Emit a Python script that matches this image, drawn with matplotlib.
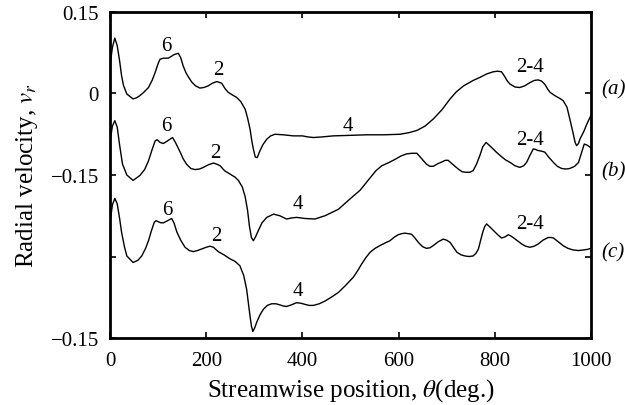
import matplotlib
matplotlib.use("Agg")
import matplotlib.pyplot as plt
import matplotlib.transforms as mtransforms

plt.rcParams['font.family'] = ['Liberation Serif', 'DejaVu Serif']
plt.rcParams['mathtext.fontset'] = 'stix'

# curve (a): streamwise position (deg) and radial velocity
theta_a = [0, 5, 10, 15, 20, 24, 28, 35, 48, 55, 62, 70, 80, 88, 94, 100, 104, 111, 121, 127,
           132, 138, 142, 147, 152, 158, 164, 170, 178, 187, 195, 204, 213, 222, 232, 240, 246,
           255, 263, 272, 281, 286, 291, 295, 298, 302, 306, 312, 318, 326, 334, 343, 360, 381,
           400, 412, 423, 440, 464, 500, 534, 570, 603, 622, 638, 655, 672, 690, 707, 720, 735,
           755, 770, 783, 797, 806, 814, 820, 826, 832, 842, 852, 862, 873, 882, 890, 897, 904,
           910, 915, 925, 935, 942, 950, 956, 962, 967, 970, 974, 977, 985, 992, 1000]
vr_a = [0.051, 0.085, 0.102, 0.088, 0.060, 0.033, 0.015, -0.001, -0.010, -0.008, -0.004, 0.002,
        0.011, 0.025, 0.039, 0.055, 0.063, 0.065, 0.065, 0.068, 0.071, 0.073, 0.074, 0.066,
        0.051, 0.038, 0.029, 0.021, 0.014, 0.010, 0.011, 0.014, 0.019, 0.022, 0.019, 0.008,
        0.002, -0.003, -0.007, -0.015, -0.029, -0.045, -0.065, -0.088, -0.102, -0.117, -0.118,
        -0.105, -0.094, -0.084, -0.078, -0.075, -0.076, -0.078, -0.078, -0.080, -0.081, -0.080,
        -0.078, -0.077, -0.076, -0.076, -0.075, -0.072, -0.068, -0.060, -0.047, -0.030, -0.010,
        0.003, 0.014, 0.024, 0.030, 0.036, 0.040, 0.041, 0.040, 0.032, 0.023, 0.017, 0.012,
        0.011, 0.014, 0.020, 0.024, 0.025, 0.023, 0.017, 0.008, 0.002, -0.004, -0.009, -0.013,
        -0.025, -0.047, -0.070, -0.090, -0.096, -0.092, -0.084, -0.070, -0.055, -0.040]

# curve (b)
theta_b = [0, 5, 10, 15, 20, 26, 35, 48, 62, 72, 80, 88, 94, 98, 104, 111, 120, 130, 136, 146,
           152, 159, 168, 177, 186, 194, 205, 215, 222, 229, 238, 249, 260, 267, 275, 281, 286,
           290, 294, 298, 303, 308, 316, 326, 340, 353, 367, 378, 388, 405, 426, 447, 475, 499,
           520, 541, 553, 565, 580, 593, 605, 617, 628, 638, 648, 658, 665, 672, 682, 690, 697,
           703, 712, 724, 732, 740, 748, 755, 762, 769, 775, 782, 788, 793, 802, 811, 822, 832,
           842, 852, 860, 866, 873, 880, 885, 890, 897, 904, 912, 922, 930, 939, 948, 956, 966,
           974, 980, 986, 992, 1000]
vr_b = [0.061, 0.090, 0.100, 0.088, 0.055, 0.020, 0.000, -0.010, -0.001, 0.010, 0.026, 0.048,
        0.063, 0.065, 0.060, 0.058, 0.063, 0.069, 0.060, 0.042, 0.030, 0.020, 0.012, 0.010,
        0.011, 0.014, 0.019, 0.022, 0.020, 0.017, 0.008, 0.002, -0.004, -0.010, -0.022, -0.040,
        -0.065, -0.095, -0.115, -0.121, -0.113, -0.103, -0.088, -0.078, -0.072, -0.075, -0.081,
        -0.079, -0.078, -0.080, -0.081, -0.075, -0.063, -0.044, -0.028, -0.005, 0.008, 0.017,
        0.023, 0.029, 0.035, 0.039, 0.040, 0.040, 0.030, 0.020, 0.016, 0.016, 0.021, 0.024,
        0.027, 0.027, 0.020, 0.011, 0.006, 0.005, 0.005, 0.008, 0.020, 0.036, 0.052, 0.060,
        0.055, 0.051, 0.043, 0.036, 0.028, 0.023, 0.017, 0.014, 0.017, 0.023, 0.036, 0.048,
        0.047, 0.045, 0.044, 0.042, 0.033, 0.023, 0.016, 0.012, 0.011, 0.012, 0.016, 0.023,
        0.040, 0.057, 0.055, 0.050]

# curve (c)
theta_c = [1, 5, 10, 15, 20, 24, 30, 35, 48, 58, 66, 74, 80, 86, 92, 96, 100, 106, 111, 120,
           128, 133, 139, 147, 156, 165, 173, 182, 191, 200, 208, 215, 225, 237, 249, 260, 270,
           278, 284, 288, 291, 294, 297, 301, 305, 312, 319, 327, 336, 345, 353, 360, 367, 377,
           388, 397, 405, 414, 423, 435, 447, 460, 475, 490, 506, 515, 523, 532, 541, 551, 561,
           572, 582, 590, 599, 606, 613, 620, 627, 634, 641, 650, 658, 665, 672, 682, 693, 700,
           707, 714, 721, 730, 738, 746, 755, 761, 766, 770, 775, 779, 783, 789, 797, 805, 814,
           821, 828, 833, 838, 847, 856, 864, 873, 882, 890, 900, 911, 917, 922, 932, 942, 952,
           963, 974, 984, 992, 1000]
vr_c = [0.069, 0.095, 0.107, 0.097, 0.070, 0.045, 0.018, 0.001, -0.011, -0.007, 0.001, 0.015,
        0.029, 0.047, 0.063, 0.066, 0.064, 0.062, 0.062, 0.066, 0.070, 0.062, 0.045, 0.030,
        0.017, 0.011, 0.009, 0.011, 0.014, 0.017, 0.019, 0.017, 0.009, 0.003, -0.004, -0.009,
        -0.017, -0.035, -0.060, -0.088, -0.109, -0.128, -0.138, -0.131, -0.121, -0.107, -0.097,
        -0.090, -0.087, -0.087, -0.089, -0.091, -0.092, -0.089, -0.085, -0.086, -0.088, -0.090,
        -0.090, -0.087, -0.082, -0.075, -0.066, -0.053, -0.038, -0.026, -0.014, -0.002, 0.008,
        0.015, 0.020, 0.025, 0.029, 0.035, 0.040, 0.042, 0.043, 0.042, 0.041, 0.034, 0.026,
        0.018, 0.015, 0.016, 0.020, 0.027, 0.032, 0.030, 0.026, 0.017, 0.008, 0.003, 0.001,
        0.000, 0.001, 0.006, 0.014, 0.028, 0.045, 0.055, 0.060, 0.055, 0.048, 0.041, 0.034,
        0.036, 0.040, 0.038, 0.035, 0.029, 0.023, 0.019, 0.017, 0.019, 0.023, 0.030, 0.035,
        0.035, 0.034, 0.027, 0.020, 0.015, 0.012, 0.011, 0.012, 0.013, 0.015]

curve_names = ['(a)', '(b)', '(c)']
offsets = [0.0, -0.15, -0.30]

# mode-number labels: centre (theta, velocity) per curve
mode_labels = ['6', '2', '4', '2-4']
label_theta = [[118, 225, 495, 873], [118, 218, 390, 873], [120, 220, 390, 873]]
label_vr = [[0.088, 0.045, -0.058, 0.049], [0.091, 0.042, -0.053, 0.066], [0.087, 0.038, -0.063, 0.060]]

fig = plt.figure(figsize=(6.25, 4.06), dpi=100)
ax = fig.add_axes([0.176, 0.165, 0.7696, 0.803])

for th, vr, off in zip([theta_a, theta_b, theta_c], [vr_a, vr_b, vr_c], offsets):
    ax.plot(th, [v + off for v in vr], color='black', lw=1.0)

for i, off in enumerate(offsets):
    for lab, t, v in zip(mode_labels, label_theta[i], label_vr[i]):
        ax.text(t, v + off, lab, fontsize=15, ha='center', va='center')

trans = mtransforms.blended_transform_factory(ax.transAxes, ax.transData)
for name, off in zip(curve_names, offsets):
    ax.text(1.022, off + 0.008, name, transform=trans, fontsize=15, ha='left', va='center',
            fontstyle='italic')

ax.set_xlim(0, 1000)
ax.set_ylim(-0.45, 0.15)
ax.set_xticks([0, 200, 400, 600, 800, 1000])
ax.set_yticks([0.15, 0, -0.15, -0.30, -0.45])
ax.set_yticklabels(['0.15', '0', '\u22120.15', '', '\u22120.15'])
ax.tick_params(direction='in', top=True, right=True, length=4, width=1.2, labelsize=15)
ax.tick_params(axis='x', pad=9)
ax.tick_params(axis='y', pad=8)
for s in ax.spines.values():
    s.set_linewidth(2.0)

ax.set_xlabel(r'Streamwise position, $\theta$(deg.)', fontsize=18, labelpad=5)
ax.set_ylabel(r'Radial velocity, $v_r$', fontsize=18, labelpad=8)

fig.savefig('out.png', dpi=100)
